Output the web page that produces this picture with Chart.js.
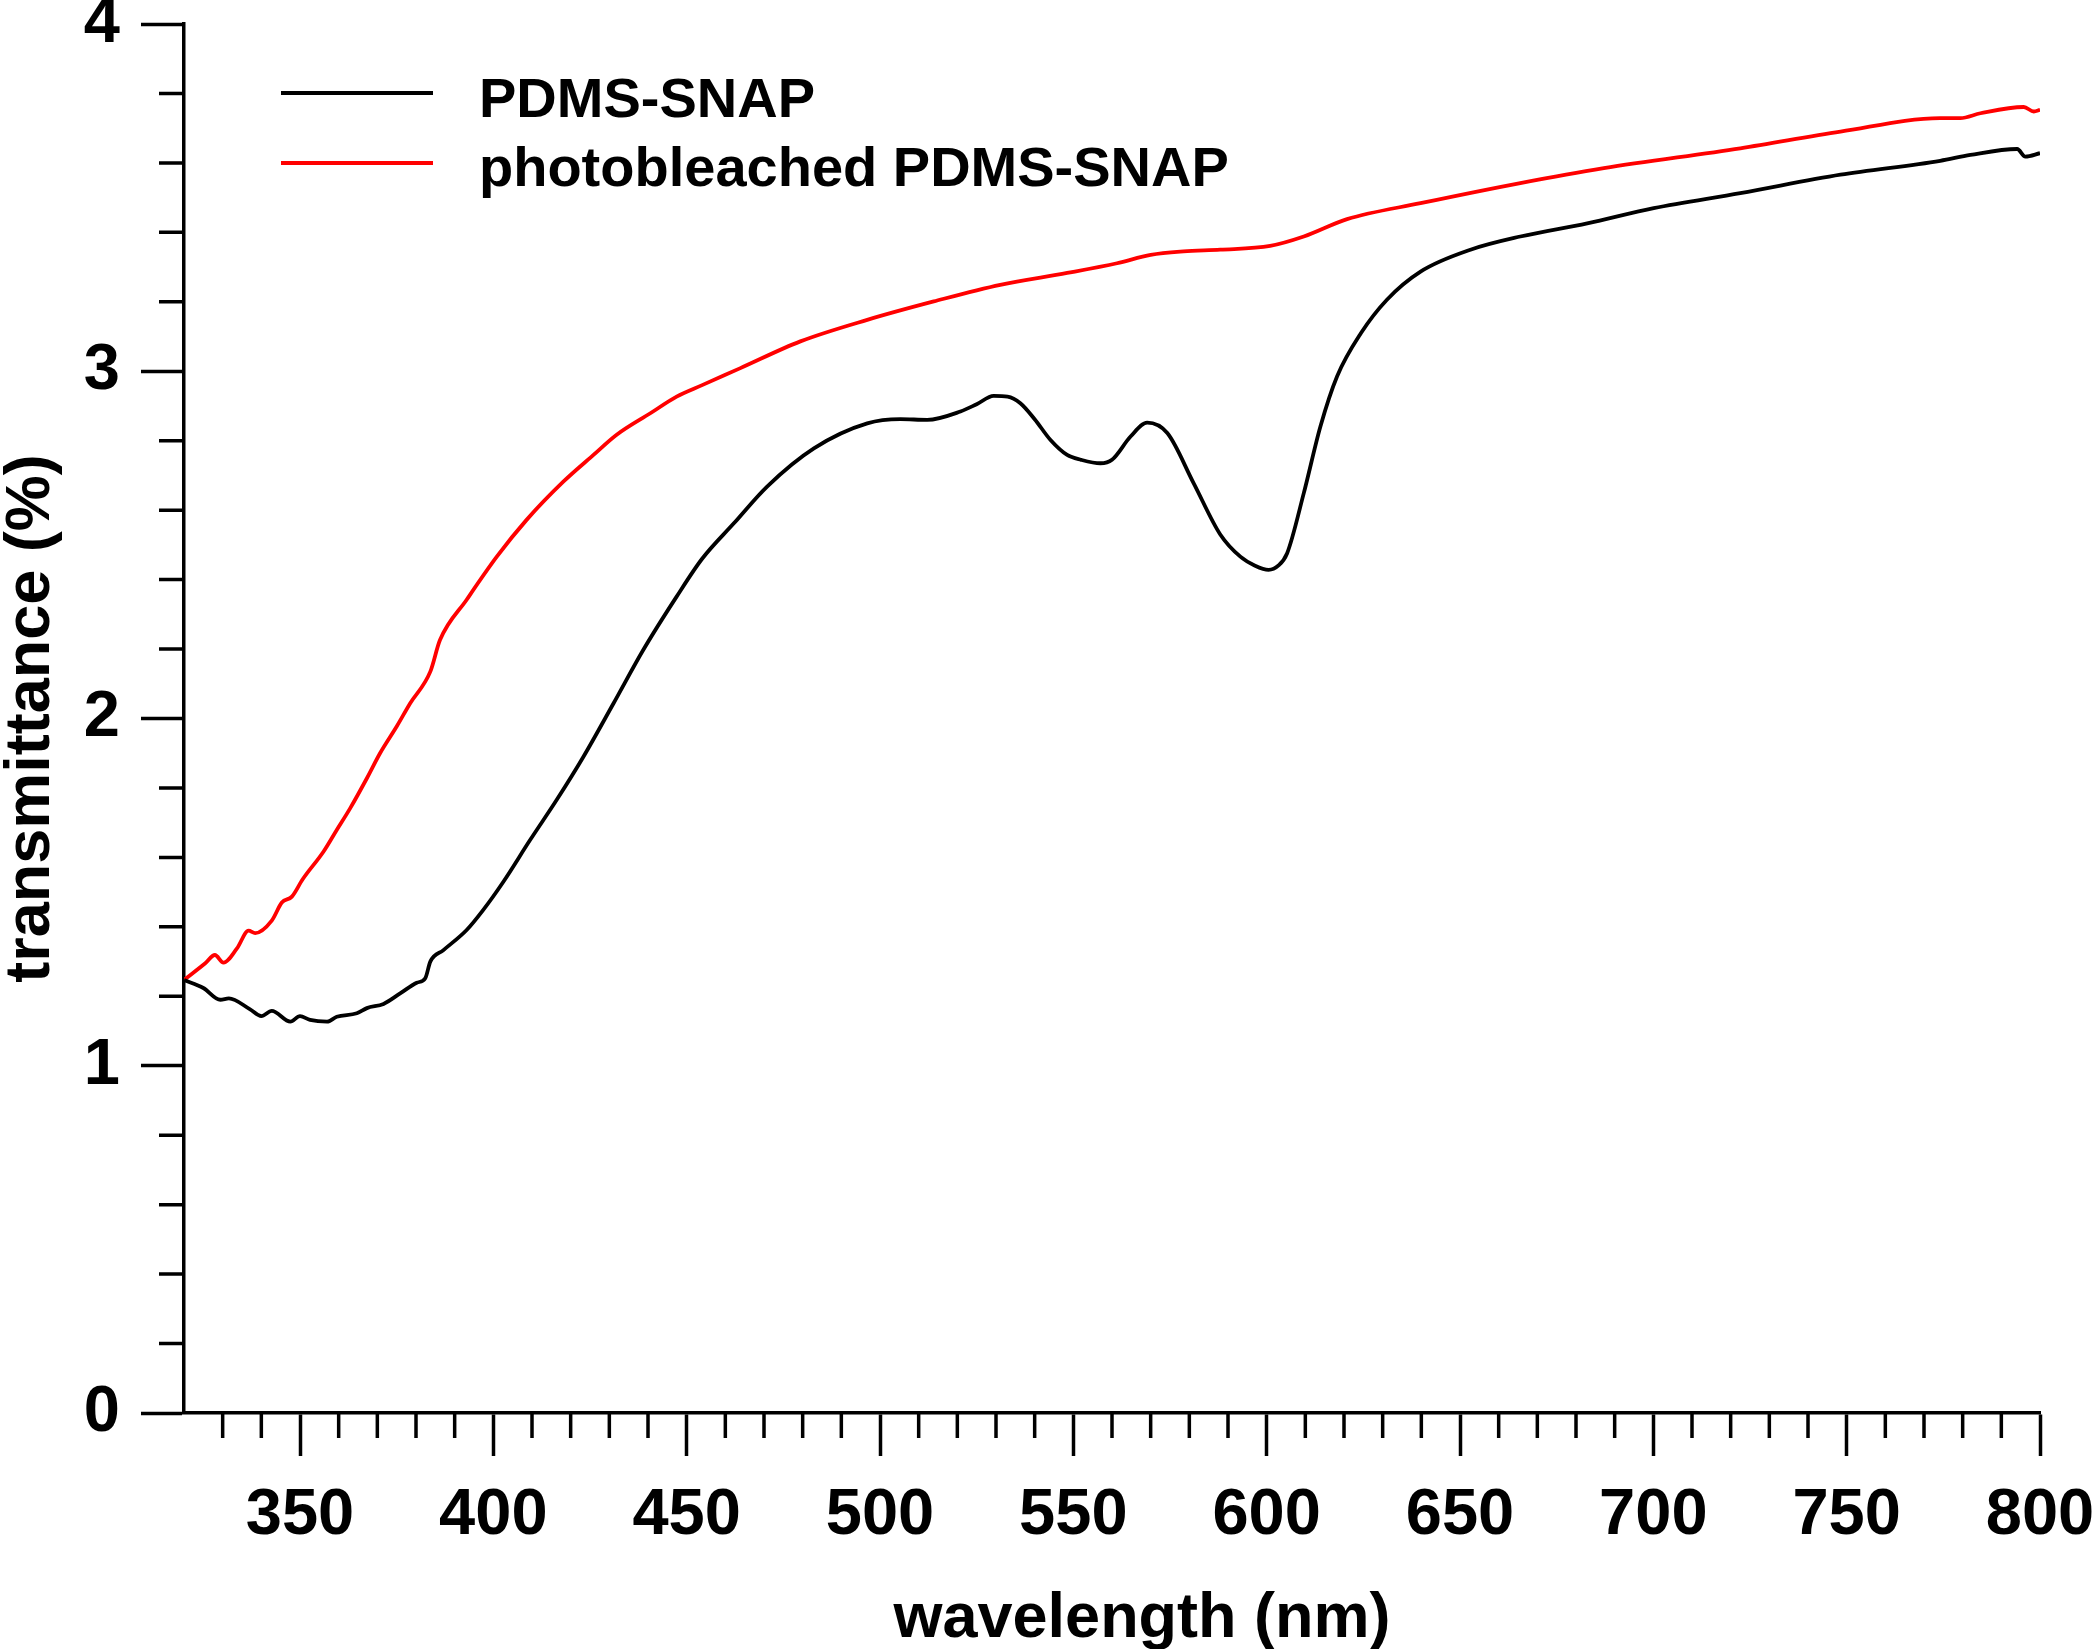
<!DOCTYPE html>
<html>
<head>
<meta charset="utf-8">
<script src="https://cdn.jsdelivr.net/npm/chart.js@4"></script>
<style>
  html, body { margin: 0; padding: 0; background: #fff; }
  canvas { display: block; }
</style>
</head>
<body>
<canvas id="grafico" width="2100" height="1649"></canvas>
<script>
// valores: longitud de onda (nm) y transmitancia
const ondaNegra = [320, 325, 329.4, 331.6, 337, 340, 342.7, 347.5, 350, 352.6, 357, 359.5, 364.7, 367.3, 371.6, 376, 380.2, 382.4, 383.7, 387.1, 393.1, 397.4, 402.6, 409.5, 416.4, 423.3, 431.1, 438.8, 447.4, 454, 462.2, 470.8, 482.9, 496.7, 505.3, 512.2, 520.8, 525, 529.4, 533, 536.3, 540, 544.1, 548.4, 552, 557, 560, 564.8, 569.1, 574.3, 581.1, 588, 593.2, 597, 600.5, 603, 605.3, 609.6, 613.9, 618.2, 624.4, 631.1, 639.8, 652.7, 665.6, 682.9, 700.1, 722.5, 748.4, 774.2, 782, 794.1, 796.2, 800];
const transNegra = [1.247, 1.224, 1.19, 1.194, 1.163, 1.143, 1.158, 1.127, 1.143, 1.132, 1.127, 1.141, 1.151, 1.166, 1.178, 1.209, 1.239, 1.252, 1.30, 1.333, 1.391, 1.449, 1.53, 1.65, 1.766, 1.89, 2.044, 2.198, 2.351, 2.46, 2.562, 2.668, 2.778, 2.85, 2.862, 2.86, 2.884, 2.905, 2.929, 2.927, 2.908, 2.862, 2.802, 2.759, 2.745, 2.735, 2.745, 2.812, 2.852, 2.822, 2.678, 2.53, 2.466, 2.44, 2.428, 2.44, 2.476, 2.649, 2.841, 2.985, 3.11, 3.206, 3.287, 3.35, 3.388, 3.426, 3.47, 3.513, 3.566, 3.606, 3.623, 3.64, 3.618, 3.628];

const ondaRoja = [320, 325.5, 328, 330.2, 333.7, 336.7, 338.4, 342.7, 345.3, 347.9, 350.7, 356.1, 359.5, 363, 367.3, 370.7, 375, 378.5, 383.7, 386.2, 393.1, 400.9, 408.6, 418.1, 425.9, 431.9, 440.6, 447.4, 454, 463.9, 479.4, 496.7, 513.9, 531.1, 548.4, 561.3, 570, 578.5, 588, 600.9, 609.6, 620.8, 639.8, 665.6, 687.2, 722.5, 748.4, 774.2, 779.4, 784.6, 795.8, 798.4, 800];
const transRoja = [1.247, 1.295, 1.319, 1.297, 1.338, 1.389, 1.382, 1.418, 1.47, 1.487, 1.537, 1.617, 1.679, 1.742, 1.828, 1.90, 1.977, 2.044, 2.135, 2.226, 2.342, 2.466, 2.572, 2.682, 2.759, 2.817, 2.879, 2.927, 2.96, 3.009, 3.086, 3.148, 3.201, 3.249, 3.283, 3.311, 3.335, 3.345, 3.35, 3.361, 3.388, 3.438, 3.484, 3.542, 3.585, 3.642, 3.69, 3.729, 3.729, 3.743, 3.761, 3.748, 3.753];

const nombres = ["PDMS-SNAP", "photobleached PDMS-SNAP"];
const colores = ["#000000", "#ff0000"];

const xTicks = [350, 400, 450, 500, 550, 600, 650, 700, 750, 800];
const yTicks = [0, 1, 2, 3, 4];
const tituloX = "wavelength (nm)";
const tituloY = "transmittance (%)";

const fuente = '"Liberation Sans", Arial, sans-serif';
Chart.defaults.font.family = fuente;
Chart.defaults.font.weight = 'bold';
Chart.defaults.color = '#000';

function puntos(xs, ys) {
  return xs.map((v, i) => ({x: v, y: ys[i]}));
}

// marcas menores, leyenda y titulo del eje x
const extras = {
  id: 'extras',
  afterDraw(chart) {
    const {ctx, scales: {x, y}} = chart;
    ctx.save();
    ctx.strokeStyle = '#000';
    ctx.lineWidth = 3.5;
    ctx.beginPath();
    for (let v = 330; v < 800; v += 10) {
      if (v % 50 === 0) continue;
      const px = x.getPixelForValue(v);
      ctx.moveTo(px, y.bottom);
      ctx.lineTo(px, y.bottom + 25);
    }
    for (let k = 1; k < 20; k++) {
      if (k % 5 === 0) continue;
      const py = y.getPixelForValue(k * 0.2);
      ctx.moveTo(x.left - 25, py);
      ctx.lineTo(x.left, py);
    }
    ctx.stroke();

    // leyenda dentro del grafico
    const filas = [{linea: 93, base: 117}, {linea: 163, base: 186}];
    ctx.font = 'bold 56px ' + fuente;
    ctx.textBaseline = 'alphabetic';
    ctx.textAlign = 'left';
    chart.data.datasets.forEach((ds, i) => {
      ctx.strokeStyle = ds.borderColor;
      ctx.lineWidth = 4;
      ctx.beginPath();
      ctx.moveTo(281, filas[i].linea);
      ctx.lineTo(433, filas[i].linea);
      ctx.stroke();
      ctx.fillStyle = '#000';
      ctx.fillText(ds.label, 479, filas[i].base);
    });

    ctx.font = 'bold 63px ' + fuente;
    ctx.textAlign = 'center';
    ctx.fillText(tituloX, 1142, 1637);
    ctx.restore();
  }
};

new Chart(document.getElementById("grafico"), {
  type: "line",
  data: {
    datasets: [
      {
        label: nombres[0],
        data: puntos(ondaNegra, transNegra),
        borderColor: colores[0],
        borderWidth: 3.8,
        pointRadius: 0,
        cubicInterpolationMode: 'monotone',
        fill: false
      },
      {
        label: nombres[1],
        data: puntos(ondaRoja, transRoja),
        borderColor: colores[1],
        borderWidth: 3.8,
        pointRadius: 0,
        cubicInterpolationMode: 'monotone',
        fill: false
      }
    ]
  },
  options: {
    responsive: false,
    animation: false,
    layout: { padding: {top: 24, right: 60, bottom: 0, left: 0} },
    plugins: {
      legend: { display: false },
      tooltip: { enabled: false }
    },
    scales: {
      x: {
        type: 'linear',
        min: 320,
        max: 800,
        afterBuildTicks: ax => { ax.ticks = xTicks.map(v => ({value: v})); },
        afterFit: ax => { ax.height = 236; ax.paddingLeft = 0; ax.paddingRight = 0; },
        ticks: {
          font: {size: 65, weight: 'bold', lineHeight: 1},
          color: '#000',
          padding: 28,
          maxRotation: 0,
          autoSkip: false,
          callback: v => String(v)
        },
        grid: {
          drawOnChartArea: false,
          tickLength: 43,
          tickWidth: 3.5,
          tickColor: '#000',
          color: '#000'
        },
        border: { color: '#000', width: 3.5 }
      },
      y: {
        min: 0,
        max: 4,
        afterBuildTicks: ax => { ax.ticks = yTicks.map(v => ({value: v})); },
        afterFit: ax => { ax.width = 184; ax.paddingTop = 0; ax.paddingBottom = 0; },
        ticks: {
          font: {size: 65, weight: 'bold', lineHeight: 1},
          color: '#000',
          padding: 21,
          autoSkip: false,
          callback: v => String(v)
        },
        grid: {
          drawOnChartArea: false,
          tickLength: 43,
          tickWidth: 3.5,
          tickColor: '#000',
          color: '#000'
        },
        border: { color: '#000', width: 3.5 },
        title: {
          display: true,
          text: tituloY,
          font: {size: 63, weight: 'bold', lineHeight: 1},
          color: '#000',
          padding: {top: 0, bottom: 0}
        }
      }
    }
  },
  plugins: [extras]
});
</script>
</body>
</html>
